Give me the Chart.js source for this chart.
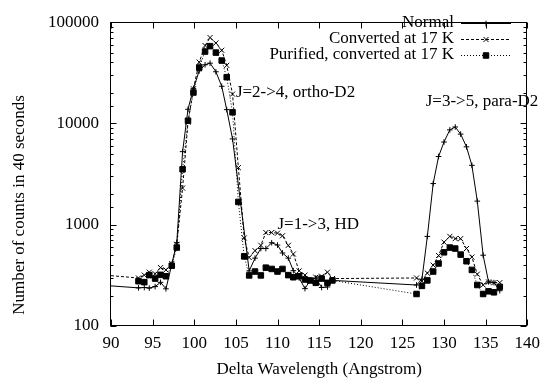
<!DOCTYPE html>
<html>
<head>
<meta charset="utf-8">
<script src="https://cdn.jsdelivr.net/npm/chart.js@4.4.0/dist/chart.umd.min.js"></script>
<style>
  html, body { margin: 0; padding: 0; background: #fff; }
</style>
</head>
<body>
<canvas id="chart" width="547" height="383"></canvas>
<script>
// wavelength of every scan point (two separate scan ranges)
var wavelengths = [
  93.3, 94.0, 94.6, 95.3, 95.95, 96.6, 97.3, 97.9, 98.6, 99.25, 99.9, 100.6,
  101.3, 101.9, 102.6, 103.3, 103.9, 104.6, 105.3, 106.0, 106.6, 107.3, 108.0, 108.6,
  109.3, 110.0, 110.6, 111.3, 111.9, 112.6, 113.3, 113.9, 114.6, 115.3, 116.0, 116.6,
  126.7, 127.35, 128.0, 128.7, 129.35, 130.0, 130.7, 131.35, 132.0, 132.7, 133.35, 134.0,
  134.7, 135.35, 136.0, 136.7
];

var normalCounts = [
  238, 240, 237, 245, 270, 233, 405, 664, 5270, 13800, 22200, 33100,
  38000, 39400, 32400, 23300, 13700, 7040, null, null, 350, 468, 582, 582,
  664, 630, 526, 468, 352, 298, 234, 282, 298, 240, 243, 282,
  254, 290, 767, 2550, 4720, 6560, 8640, 9230, 7850, 5880, 3860, 1710,
  500, 273, 268, 223
];

var convertedCounts = [
  298, 318, 340, 328, 377, 358, 414, 640, 2300, 10300, 22000, 40300,
  58800, 70500, 62300, 52800, 37500, 19500, 3660, 740, 475, 554, 626, 837,
  837, 826, 778, 626, 514, 350, 318, 277, 303, 310, 340, 294,
  298, 277, 333, 399, 497, 673, 767, 729, 729, 582, 479, 325,
  254, 272, 268, 268
];

var purifiedCounts = [
  277, 271, 318, 294, 320, 310, 394, 595, 3530, 10650, 20200, 35650,
  51300, 58000, 50100, 41800, 28650, 12880, 1680, 487, 316, 345, 316, 377,
  366, 345, 366, 318, 303, 310, 288, 282, 267, 294, 267, 282,
  207, 249, 282, 345, 414, 534, 595, 582, 507, 436, 358, 254,
  207, 220, 215, 243
];

// the first two scans come in from the left of the window: value at 90 A
var normalEdge = 249;
var convertedEdge = 314;

var xTicks = [90, 95, 100, 105, 110, 115, 120, 125, 130, 135, 140];
var yTicks = [100, 1000, 10000, 100000];

var seriesNames = ['Normal', 'Converted at 17 K', 'Purified, converted at 17 K'];

function toPoints(xs, ys, edge) {
  var pts = [];
  if (edge !== undefined) pts.push({x: 90, y: edge});
  xs.forEach(function(x, i) {
    if (ys[i] !== null) pts.push({x: x, y: ys[i]});
  });
  return pts;
}

var FONT = "'Liberation Serif', 'Times New Roman', serif";
Chart.defaults.font.family = FONT;
Chart.defaults.font.size = 17;
Chart.defaults.color = '#000';

var looks = [
  {style: 'cross', radius: 2.8, dash: []},
  {style: 'crossRot', radius: 3.6, dash: [3, 2]},
  {style: 'rect', radius: 3.9, dash: [1, 2]}
];

function isDecade(v) {
  var e = Math.log10(v);
  return Math.abs(e - Math.round(e)) < 1e-6;
}

var frame = {
  id: 'frame',
  afterDraw: function(chart) {
    var ctx = chart.ctx, a = chart.chartArea;
    var xs = chart.scales.x, ys = chart.scales.y;
    var L = Math.round(a.left) - 0.5, R = Math.round(a.right) - 0.5;
    var T = Math.round(a.top) + 0.5, B = Math.round(a.bottom) - 0.5;
    ctx.save();
    ctx.strokeStyle = '#000';
    ctx.lineWidth = 1;
    ctx.setLineDash([]);
    ctx.strokeRect(L, T, R - L, B - T);

    ctx.beginPath();
    xTicks.forEach(function(v) {
      var px = Math.round(xs.getPixelForValue(v)) + 0.5;
      ctx.moveTo(px, B); ctx.lineTo(px, B - 6);
      ctx.moveTo(px, T); ctx.lineTo(px, T + 6);
    });
    ys.ticks.forEach(function(t) {
      var py = Math.round(ys.getPixelForValue(t.value)) + 0.5;
      var len = isDecade(t.value) ? 6 : 3;
      ctx.moveTo(L, py); ctx.lineTo(L + len, py);
      ctx.moveTo(R, py); ctx.lineTo(R - len, py);
    });
    ctx.stroke();

    ctx.font = '17px ' + FONT;
    ctx.fillStyle = '#000';
    ctx.textBaseline = 'middle';

    // y axis title
    ctx.save();
    ctx.translate(20, 205);
    ctx.rotate(-Math.PI / 2);
    ctx.textAlign = 'center';
    ctx.fillText('Number of counts in 40 seconds', 0, 0);
    ctx.restore();

    // key, top right inside the frame
    ctx.textAlign = 'right';
    var rows = [23, 39, 55];
    seriesNames.forEach(function(name, i) {
      var y = rows[i];
      ctx.fillText(name, 454, y);
      ctx.beginPath();
      ctx.setLineDash(looks[i].dash);
      ctx.moveTo(461, y + 0.5); ctx.lineTo(511, y + 0.5);
      ctx.stroke();
      ctx.setLineDash([]);
      Chart.helpers.drawPoint(ctx, {pointStyle: looks[i].style, radius: looks[i].radius, rotation: 0, borderWidth: 1}, 486, y + 0.5);
    });

    // peak labels, placed in data units
    ctx.textAlign = 'left';
    ctx.fillText('J=2->4, ortho-D2', xs.getPixelForValue(105), ys.getPixelForValue(20000));
    ctx.fillText('J=1->3, HD', xs.getPixelForValue(110), ys.getPixelForValue(1000));
    ctx.fillText('J=3->5, para-D2', xs.getPixelForValue(127.8), ys.getPixelForValue(16400));
    ctx.restore();
  }
};

function makeSet(i, pts) {
  return {
    label: seriesNames[i],
    data: pts,
    borderColor: '#000',
    backgroundColor: '#000',
    borderWidth: 1,
    borderDash: looks[i].dash,
    pointStyle: looks[i].style,
    pointRadius: function(c) { return c.raw && c.raw.x <= 90 ? 0 : looks[i].radius; },
    pointBorderWidth: 1,
    pointBorderColor: '#000',
    pointBackgroundColor: '#000',
    tension: 0,
    fill: false
  };
}

new Chart(document.getElementById('chart'), {
  type: 'line',
  data: {
    datasets: [
      makeSet(0, toPoints(wavelengths, normalCounts, normalEdge)),
      makeSet(1, toPoints(wavelengths, convertedCounts, convertedEdge)),
      makeSet(2, toPoints(wavelengths, purifiedCounts))
    ]
  },
  options: {
    responsive: false,
    animation: false,
    layout: {padding: {top: 10, right: 16, left: 0, bottom: 0}},
    plugins: {legend: {display: false}, tooltip: {enabled: false}},
    scales: {
      x: {
        type: 'linear',
        min: 90,
        max: 140,
        afterFit: function(s) { s.height = 57; },
        afterBuildTicks: function(s) { s.ticks = xTicks.map(function(v) { return {value: v}; }); },
        grid: {display: false, drawTicks: false},
        border: {display: false},
        ticks: {padding: 7, autoSkip: false, maxRotation: 0},
        title: {display: true, text: 'Delta Wavelength (Angstrom)', padding: {top: 0, bottom: 3}}
      },
      y: {
        type: 'logarithmic',
        min: 100,
        max: 100000,
        afterFit: function(s) { s.width = 111; },
        grid: {display: false, drawTicks: false},
        border: {display: false},
        ticks: {
          padding: 12,
          autoSkip: false,
          callback: function(v) { return yTicks.indexOf(v) >= 0 ? String(v) : ''; }
        }
      }
    }
  },
  plugins: [frame]
});
</script>
</body>
</html>
